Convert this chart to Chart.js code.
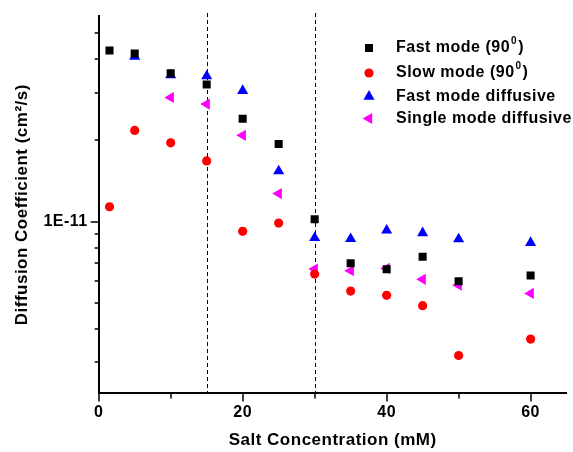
<!DOCTYPE html>
<html>
<head>
<meta charset="utf-8">
<script src="https://cdn.jsdelivr.net/npm/chart.js@4.4.1/dist/chart.umd.min.js"></script>
<style>
html, body { margin: 0; padding: 0; background: #fff; }
#wrap { width: 573px; height: 452px; }
</style>
</head>
<body>
<div id="wrap"><canvas id="diffChart"></canvas></div>
<script>
// salt concentration (mM)
var saltX = [1.5, 5, 10, 15, 20, 25, 30, 35, 40, 45, 50, 60];
var fastDiffX = [5, 10, 15, 20, 25, 30, 35, 40, 45, 50, 60];
var singleX = [10, 15, 20, 25, 30, 35, 40, 45, 50, 60];

// diffusion coefficients (cm^2/s)
var fastMode90 = [4.32e-11, 4.21e-11, 3.55e-11, 3.23e-11, 2.41e-11, 1.94e-11, 1.02e-11, 7.0e-12, 6.65e-12, 7.4e-12, 6.0e-12, 6.3e-12];
var slowMode90 = [1.135e-11, 2.18e-11, 1.96e-11, 1.68e-11, 9.2e-12, 9.87e-12, 6.38e-12, 5.52e-12, 5.32e-12, 4.87e-12, 3.18e-12, 3.66e-12];
var fastDiffusive = [4.1e-11, 3.5e-11, 3.47e-11, 3.06e-11, 1.54e-11, 8.7e-12, 8.63e-12, 9.28e-12, 9.07e-12, 8.61e-12, 8.34e-12];
var singleDiffusive = [2.89e-11, 2.73e-11, 2.09e-11, 1.27e-11, 6.66e-12, 6.57e-12, 6.7e-12, 6.1e-12, 5.8e-12, 5.41e-12];

var seriesNames = ['Fast mode (90^0)', 'Slow mode (90^0)', 'Fast mode diffusive', 'Single mode diffusive'];

// axes
var xTicks = [0, 10, 20, 30, 40, 50, 60];
var xLabelled = [0, 20, 40, 60];
var yTicks = [3e-12, 4e-12, 5e-12, 6e-12, 7e-12, 8e-12, 9e-12, 1e-11, 2e-11, 3e-11, 4e-11, 5e-11];
var yLabelled = [1e-11];
var dashedAt = [15, 30];

var FONT = 'Arial, "Liberation Sans", sans-serif';
Chart.defaults.font.family = FONT;
Chart.defaults.color = '#000';

function pts(xs, ys) {
    return xs.map(function (x, i) { return {x: x, y: ys[i]}; });
}

function drawSupText(ctx, text, x, y) {
    var parts = text.split('^');
    ctx.font = 'bold 16px ' + FONT;
    ctx.textBaseline = 'middle';
    ctx.textAlign = 'left';
    ctx.fillText(parts[0], x, y);
    if (parts.length > 1) {
        var w = ctx.measureText(parts[0]).width;
        ctx.font = 'bold 10px ' + FONT;
        ctx.fillText(parts[1].charAt(0), x + w + 1, y - 7);
        var w2 = ctx.measureText(parts[1].charAt(0)).width;
        ctx.font = 'bold 16px ' + FONT;
        ctx.fillText(parts[1].slice(1), x + w + w2 + 2, y);
    }
}

// the original lettering is a bit wider than Arial
var spacing = {
    id: 'spacing',
    beforeUpdate: function (chart) { chart.ctx.letterSpacing = '0.5px'; },
    beforeDraw: function (chart) { chart.ctx.letterSpacing = '0.5px'; }
};

var dashedLines = {
    id: 'dashedLines',
    beforeDatasetsDraw: function (chart) {
        var ctx = chart.ctx, area = chart.chartArea, xs = chart.scales.x;
        ctx.save();
        ctx.strokeStyle = '#000';
        ctx.lineWidth = 1;
        ctx.setLineDash([4, 3]);
        dashedAt.forEach(function (v) {
            var px = Math.round(xs.getPixelForValue(v)) + 0.5;
            ctx.beginPath();
            ctx.moveTo(px, area.top - 3);
            ctx.lineTo(px, area.bottom);
            ctx.stroke();
        });
        ctx.restore();
    }
};

var axisTicks = {
    id: 'axisTicks',
    afterDraw: function (chart) {
        var ctx = chart.ctx, area = chart.chartArea;
        var xs = chart.scales.x, ys = chart.scales.y;
        ctx.save();
        ctx.strokeStyle = '#000';
        ctx.lineWidth = 1.5;
        ctx.beginPath();
        xs.ticks.forEach(function (t) {
            var px = Math.round(xs.getPixelForValue(t.value));
            var len = xLabelled.indexOf(t.value) >= 0 ? 8 : 5;
            ctx.moveTo(px, area.bottom);
            ctx.lineTo(px, area.bottom + len);
        });
        ys.ticks.forEach(function (t) {
            var py = Math.round(ys.getPixelForValue(t.value));
            var len = yLabelled.indexOf(t.value) >= 0 ? 8 : 4;
            ctx.moveTo(area.left, py);
            ctx.lineTo(area.left - len, py);
        });
        ctx.stroke();
        ctx.restore();
    }
};

var insideLegend = {
    id: 'insideLegend',
    afterDraw: function (chart) {
        var ctx = chart.ctx;
        var rows = [48, 73, 96.5, 118.5];
        ctx.save();
        chart.data.datasets.forEach(function (ds, i) {
            ctx.fillStyle = ds.backgroundColor;
            Chart.helpers.drawPoint(ctx, {
                pointStyle: ds.pointStyle,
                radius: ds.pointRadius,
                rotation: ds.rotation || 0,
                borderWidth: 0
            }, 369, rows[i]);
            ctx.fillStyle = '#000';
            drawSupText(ctx, seriesNames[i], 396, rows[i]);
        });
        ctx.restore();
    }
};

var ctx = document.getElementById('diffChart').getContext('2d');
var chart = new Chart(ctx, {
    type: 'scatter',
    data: {
        datasets: [{
            label: seriesNames[0],
            data: pts(saltX, fastMode90),
            pointStyle: 'rect',
            pointRadius: 5.7,
            backgroundColor: '#000000',
            borderWidth: 0
        }, {
            label: seriesNames[1],
            data: pts(saltX, slowMode90),
            pointStyle: 'circle',
            pointRadius: 4.6,
            backgroundColor: '#ff0000',
            borderWidth: 0
        }, {
            label: seriesNames[2],
            data: pts(fastDiffX, fastDiffusive),
            pointStyle: 'triangle',
            pointRadius: 6.4,
            backgroundColor: '#0000ff',
            borderWidth: 0
        }, {
            label: seriesNames[3],
            data: pts(singleX, singleDiffusive),
            pointStyle: 'triangle',
            rotation: 270,
            pointRadius: 6.4,
            backgroundColor: '#ff00ff',
            borderWidth: 0
        }]
    },
    options: {
        responsive: true,
        maintainAspectRatio: false,
        animation: false,
        events: [],
        layout: { padding: { left: 6, right: 3, top: 16, bottom: 0 } },
        plugins: {
            legend: { display: false },
            tooltip: { enabled: false }
        },
        scales: {
            x: {
                type: 'linear',
                min: 0,
                max: 65,
                afterBuildTicks: function (s) {
                    s.ticks = xTicks.map(function (v) { return {value: v}; });
                },
                ticks: {
                    autoSkip: false,
                    maxRotation: 0,
                    padding: 2,
                    font: { size: 16, weight: 'bold' },
                    callback: function (v) { return xLabelled.indexOf(v) >= 0 ? String(v) : ''; }
                },
                grid: { display: false, drawTicks: true, tickLength: 8 },
                border: { display: true, color: '#000', width: 2 },
                title: {
                    display: true,
                    text: 'Salt Concentration (mM)',
                    font: { size: 17, weight: 'bold' },
                    padding: { top: 6, bottom: 1 }
                }
            },
            y: {
                type: 'logarithmic',
                min: 2.3e-12,
                max: 5.8e-11,
                afterBuildTicks: function (s) {
                    s.ticks = yTicks.map(function (v) { return {value: v}; });
                },
                ticks: {
                    autoSkip: false,
                    padding: 3,
                    font: { size: 16, weight: 'bold' },
                    callback: function (v) { return yLabelled.indexOf(v) >= 0 ? '1E-11' : ''; }
                },
                grid: { display: false, drawTicks: true, tickLength: 8 },
                border: { display: true, color: '#000', width: 2 },
                title: {
                    display: true,
                    text: 'Diffusion Coefficient (cm\u00b2/s)',
                    font: { size: 17, weight: 'bold' },
                    padding: { top: 6, bottom: 8 }
                }
            }
        }
    },
    plugins: [spacing, dashedLines, axisTicks, insideLegend]
});
</script>
</body>
</html>
